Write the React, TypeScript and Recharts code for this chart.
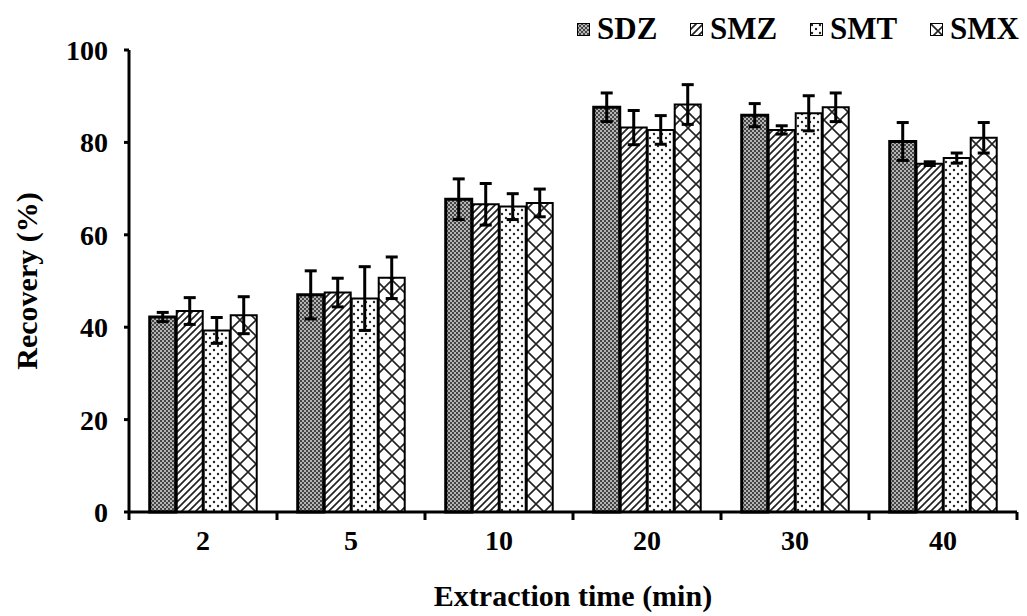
import React from 'react';
import { BarChart, Bar, XAxis, YAxis, ErrorBar, Label } from 'recharts';

const times = ['2', '5', '10', '20', '30', '40'];
const sdz = [42.2, 47.0, 67.7, 87.6, 85.9, 80.2];
const sdzErr = [1.0, 5.2, 4.4, 3.1, 2.5, 4.1];
const smz = [43.5, 47.5, 66.6, 83.2, 82.7, 75.4];
const smzErr = [2.9, 3.1, 4.5, 3.7, 0.9, 0.4];
const smt = [39.3, 46.2, 66.1, 82.7, 86.3, 76.6];
const smtErr = [2.8, 6.9, 2.8, 3.1, 3.8, 1.1];
const smx = [42.6, 50.7, 66.9, 88.2, 87.6, 81.0];
const smxErr = [4.0, 4.5, 3.0, 4.3, 3.1, 3.3];
const yTicks = [0, 20, 40, 60, 80, 100];

const data = times.map((t, i) => ({
  time: t,
  SDZ: sdz[i], sdzErr: sdzErr[i],
  SMZ: smz[i], smzErr: smzErr[i],
  SMT: smt[i], smtErr: smtErr[i],
  SMX: smx[i], smxErr: smxErr[i],
}));

const W = 1027;
const H = 616;
const margin = { top: 50, right: 10, bottom: 0, left: 0 };
const yAxisWidth = 129;
const xAxisHeight = 104;
const FONT = '"Liberation Serif", "Times New Roman", serif';

const series = [
  { key: 'SDZ', err: 'sdzErr', fill: 'url(#pSDZ)', sw: 3, itemW: 113 },
  { key: 'SMZ', err: 'smzErr', fill: 'url(#pSMZ)', sw: 2, itemW: 120 },
  { key: 'SMT', err: 'smtErr', fill: 'url(#pSMT)', sw: 2, itemW: 120 },
  { key: 'SMX', err: 'smxErr', fill: 'url(#pSMX)', sw: 2, itemW: 96 },
];

// category labels centred, tick marks on the band edges
const TimeTick = (props: any) => {
  const { x, y, payload, index } = props;
  const plotW = W - margin.left - yAxisWidth - margin.right;
  const half = payload && payload.offset ? payload.offset : plotW / times.length / 2;
  return (
    <g>
      <line x1={x - half} y1={y} x2={x - half} y2={y + 8} stroke="#000" strokeWidth={3} />
      {index === times.length - 1 && (
        <line x1={x + half} y1={y} x2={x + half} y2={y + 8} stroke="#000" strokeWidth={3} />
      )}
      <text x={x} y={y + 38} textAnchor="middle" fontFamily={FONT} fontWeight={700} fontSize={28} fill="#000">
        {payload.value}
      </text>
    </g>
  );
};

const XTitle = (props: any) => {
  const { viewBox } = props;
  const cx = viewBox.x + viewBox.width / 2;
  return (
    <text x={cx} y={viewBox.y + 94} textAnchor="middle" fontFamily={FONT} fontWeight={700} fontSize={30} fill="#000">
      Extraction time (min)
    </text>
  );
};

const YTitle = (props: any) => {
  const { viewBox } = props;
  const cx = 26;
  const cy = viewBox.y + viewBox.height / 2;
  return (
    <text x={cx} y={cy} transform={`rotate(-90, ${cx}, ${cy})`} textAnchor="middle" dominantBaseline="central"
      fontFamily={FONT} fontWeight={700} fontSize={30} fill="#000">
      Recovery (%)
    </text>
  );
};

const Patterns = () => (
  <defs>
    <pattern id="pSDZ" width={4} height={4} patternUnits="userSpaceOnUse">
      <rect width={4} height={4} fill="#b4b4b4" />
      <rect x={0} y={0} width={2} height={2} fill="#454545" />
      <rect x={2} y={2} width={2} height={2} fill="#454545" />
    </pattern>
    <pattern id="pSMZ" width={7} height={7} patternUnits="userSpaceOnUse">
      <rect width={7} height={7} fill="#fff" />
      <path d="M0,7 L7,0 M-2,2 L2,-2 M5,9 L9,5" stroke="#222" strokeWidth={1.7} />
    </pattern>
    <pattern id="pSMT" width={8} height={8} patternUnits="userSpaceOnUse">
      <rect width={8} height={8} fill="#fff" />
      <circle cx={2} cy={2} r={1.2} fill="#222" />
      <circle cx={6} cy={6} r={1.2} fill="#222" />
    </pattern>
    <pattern id="pSMX" width={16} height={16} patternUnits="userSpaceOnUse">
      <rect width={16} height={16} fill="#fff" />
      <path d="M0,0 L16,16 M16,0 L0,16" stroke="#222" strokeWidth={1.6} />
    </pattern>
  </defs>
);

const LegendBox = () => (
  <div style={{ position: 'absolute', top: 12, left: 577, display: 'flex', alignItems: 'center', height: 34 }}>
    {series.map((s) => (
      <div key={s.key} style={{ display: 'flex', alignItems: 'center', width: s.itemW }}>
        <svg width={13} height={13} style={{ marginRight: 7 }}>
          <rect x={0.5} y={0.5} width={12} height={12} fill={s.fill} stroke="#000" strokeWidth={1} />
        </svg>
        <span style={{ fontFamily: FONT, fontWeight: 700, fontSize: 31, lineHeight: '34px', color: '#000' }}>{s.key}</span>
      </div>
    ))}
  </div>
);

export default function App() {
  return (
    <div style={{ position: 'absolute', left: 0, top: 0, width: W, height: H, background: '#fff' }}>
      <BarChart width={W} height={H} data={data} margin={margin} barCategoryGap="14%" barGap={1}>
        <Patterns />
        <XAxis dataKey="time" height={xAxisHeight} axisLine={{ stroke: '#000', strokeWidth: 3 }} tickLine={false}
          tickSize={0} tickMargin={0} tick={<TimeTick />} interval={0}>
          <Label content={<XTitle />} />
        </XAxis>
        <YAxis width={yAxisWidth} domain={[0, 100]} ticks={yTicks} interval={0}
          axisLine={{ stroke: '#000', strokeWidth: 3 }} tickLine={{ stroke: '#000', strokeWidth: 3 }}
          tickSize={5} tickMargin={16}
          tick={{ fill: '#000', fontSize: 28, fontWeight: 700, fontFamily: FONT }}>
          <Label content={<YTitle />} />
        </YAxis>
        {series.map((s) => (
          <Bar key={s.key} dataKey={s.key} fill={s.fill} stroke="#000" strokeWidth={s.sw} isAnimationActive={false}>
            <ErrorBar dataKey={s.err} direction="y" width={6} stroke="#000" strokeWidth={3} isAnimationActive={false} />
          </Bar>
        ))}
      </BarChart>
      <LegendBox />
    </div>
  );
}
